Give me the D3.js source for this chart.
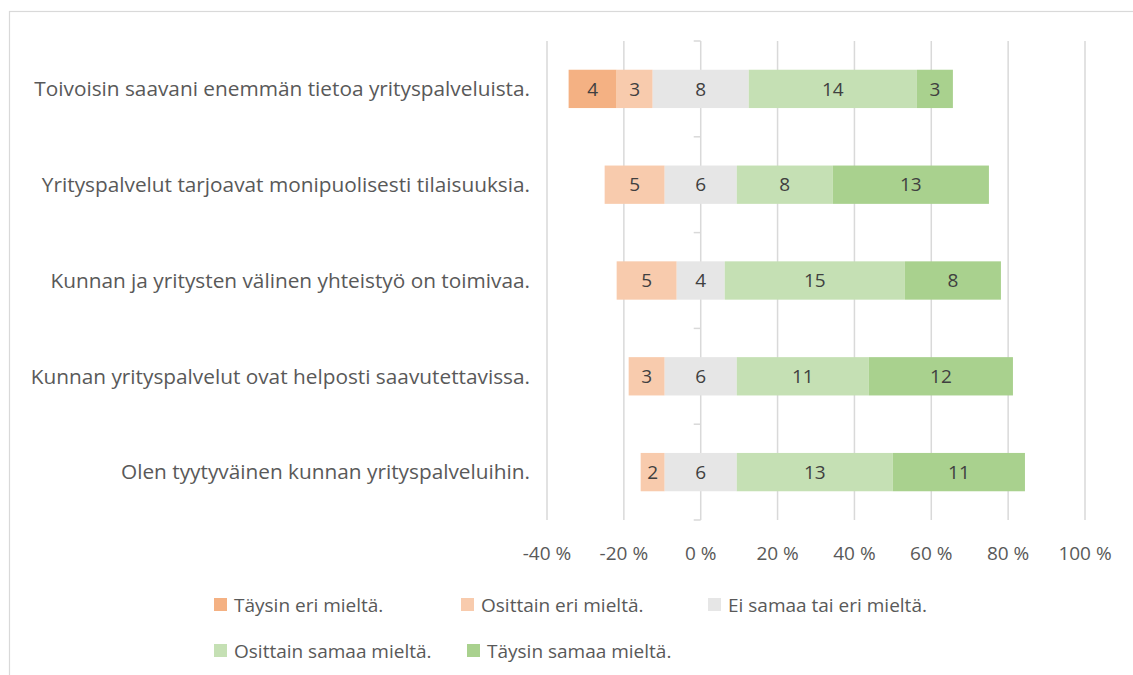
<!DOCTYPE html>
<html>
<head>
<meta charset="utf-8">
<script src="https://cdn.jsdelivr.net/npm/d3@7"></script>
<style>
  body { margin: 0; background: #fff; }
  svg { display: block; font-family: "Open Sans", "Noto Sans", sans-serif; }
</style>
</head>
<body>
<div id="chart"></div>
<script>
// data (answer counts per statement)
const categories = [
    "Toivoisin saavani enemmän tietoa yrityspalveluista.",
    "Yrityspalvelut tarjoavat monipuolisesti tilaisuuksia.",
    "Kunnan ja yritysten välinen yhteistyö on toimivaa.",
    "Kunnan yrityspalvelut ovat helposti saavutettavissa.",
    "Olen tyytyväinen kunnan yrityspalveluihin."
];
const seriesNames = ["Täysin eri mieltä.", "Osittain eri mieltä.", "Ei samaa tai eri mieltä.",
    "Osittain samaa mieltä.", "Täysin samaa mieltä."];
const taysinEri = [4, 0, 0, 0, 0];
const osittainEri = [3, 5, 5, 3, 2];
const eiSamaaTaiEri = [8, 6, 4, 6, 6];
const osittainSamaa = [14, 8, 15, 11, 13];
const taysinSamaa = [3, 13, 8, 12, 11];
const xTicks = [-40, -20, 0, 20, 40, 60, 80, 100];
const colors = ["#f4b183", "#f8cbad", "#e6e6e6", "#c5e0b4", "#a9d18e"];

const W = 1133, H = 675;
const svg = d3.select("#chart").append("svg")
    .attr("width", W)
    .attr("height", H);

// chart border (runs off the right and bottom edge)
svg.append("rect")
    .attr("x", 9.5).attr("y", 11.5)
    .attr("width", 1200).attr("height", 800)
    .attr("fill", "none")
    .attr("stroke", "#d9d9d9")
    .attr("stroke-width", 1.2);

const x = d3.scaleLinear().domain([-40, 100]).range([547, 1085]);
const y = d3.scaleBand().domain(categories).range([41, 520])
    .paddingInner(0.6).paddingOuter(0.3);

// gridlines
svg.append("g")
    .selectAll("line")
    .data(xTicks)
    .join("line")
    .attr("x1", d => x(d)).attr("x2", d => x(d))
    .attr("y1", 41).attr("y2", 520)
    .attr("stroke", "#d9d9d9")
    .attr("stroke-width", 1.5);

// x tick labels
svg.append("g")
    .selectAll("text")
    .data(xTicks)
    .join("text")
    .attr("x", d => x(d))
    .attr("y", 560)
    .attr("text-anchor", "middle")
    .attr("font-size", "19px")
    .attr("fill", "#595959")
    .text(d => d + " %");

// category axis ticks on the 0 line
const step = y.step();
const bounds = d3.range(categories.length + 1).map(i => y.range()[0] + i * step);
svg.append("g")
    .selectAll("line")
    .data(bounds)
    .join("line")
    .attr("x1", x(0) - 7).attr("x2", x(0))
    .attr("y1", d => d).attr("y2", d => d)
    .attr("stroke", "#d9d9d9")
    .attr("stroke-width", 1.5);

// category labels
svg.append("g")
    .selectAll("text")
    .data(categories)
    .join("text")
    .attr("x", 530)
    .attr("y", d => y(d) + y.bandwidth() / 2)
    .attr("dy", "0.35em")
    .attr("text-anchor", "end")
    .attr("font-size", "20.8px")
    .attr("fill", "#595959")
    .text(d => d);

// build segments: neutral centered on 0
const series = [taysinEri, osittainEri, eiSamaaTaiEri, osittainSamaa, taysinSamaa];
let segments = [];
categories.forEach((c, i) => {
    const vals = series.map(s => s[i]);
    const total = d3.sum(vals);
    const pct = vals.map(v => v / total * 100);
    let start = -pct[2] / 2 - pct[1] - pct[0];
    pct.forEach((p, k) => {
        segments.push({cat: c, k: k, value: vals[k], x0: start, x1: start + p});
        start += p;
    });
});

const bars = svg.append("g");
bars.selectAll("rect")
    .data(segments.filter(d => d.value > 0))
    .join("rect")
    .attr("x", d => x(d.x0))
    .attr("y", d => y(d.cat))
    .attr("width", d => x(d.x1) - x(d.x0))
    .attr("height", y.bandwidth())
    .attr("fill", d => colors[d.k]);

bars.selectAll("text")
    .data(segments.filter(d => d.value > 0))
    .join("text")
    .attr("x", d => (x(d.x0) + x(d.x1)) / 2)
    .attr("y", d => y(d.cat) + y.bandwidth() / 2)
    .attr("dy", "0.35em")
    .attr("text-anchor", "middle")
    .attr("font-size", "19px")
    .attr("fill", "#404040")
    .text(d => d.value);

// legend
const legendPos = [[214, 605], [461, 605], [708, 605], [214, 651], [467, 651]];
const legend = svg.append("g")
    .selectAll("g")
    .data(seriesNames)
    .join("g")
    .attr("transform", (d, i) => "translate(" + legendPos[i][0] + "," + legendPos[i][1] + ")");
legend.append("rect")
    .attr("x", 0).attr("y", -7)
    .attr("width", 13).attr("height", 13)
    .attr("fill", (d, i) => colors[i]);
legend.append("text")
    .attr("x", 20)
    .attr("y", 0)
    .attr("dy", "0.35em")
    .attr("font-size", "19px")
    .attr("fill", "#595959")
    .text(d => d);
</script>
</body>
</html>
